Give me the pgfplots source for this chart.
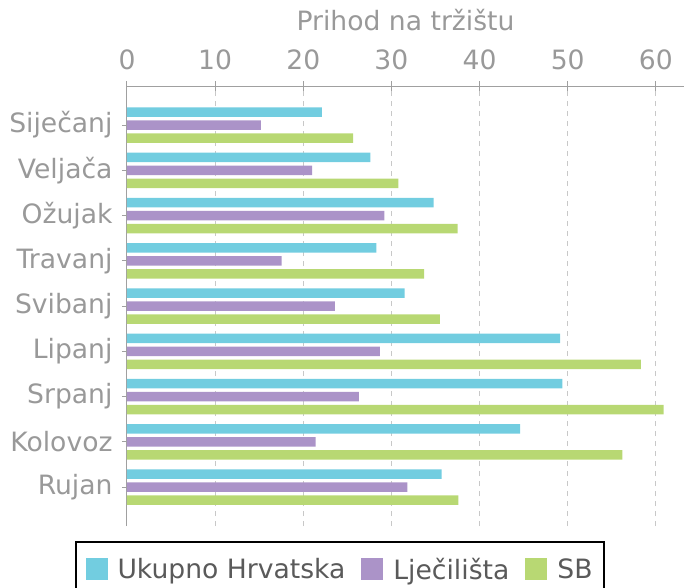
\documentclass[border=0pt]{standalone}
\usepackage{pgfplots}
\pgfplotsset{compat=1.18}
\usepackage{pgfplotstable}
\usepackage{fontspec}
\setmainfont{DejaVu Sans}
\definecolor{cUH}{HTML}{72CDE0}
\definecolor{cLJ}{HTML}{AB93C8}
\definecolor{cSB}{HTML}{B8D873}
\definecolor{tgray}{HTML}{999999}
\definecolor{lgray}{HTML}{5A5A5A}
\definecolor{agray}{HTML}{A0A0A0}
\definecolor{ggray}{HTML}{C8C8C8}
\pgfplotstableread{
y uh lj sb
8 22.1 15.2 25.65
7 27.6 21.0 30.8
6 34.8 29.2 37.5
5 28.3 17.55 33.7
4 31.5 23.6 35.5
3 49.15 28.7 58.3
2 49.4 26.3 60.9
1 44.6 21.4 56.2
0 35.7 31.8 37.6
}\datatable
\begin{document}
\begin{tikzpicture}
\begin{axis}[
  name=ax, at={(0,0)}, anchor=north west,
  width=557pt, height=440pt, scale only axis,
  xbar, bar width=9.5pt,
  xmin=0, xmax=63.2,
  ymin=-0.862, ymax=8.862,
  xtick={0,10,...,60},
  ytick={0,...,8},
  yticklabels={Rujan,Kolovoz,Srpanj,Lipanj,Svibanj,Travanj,Ožujak,Veljača,Siječanj},
  axis x line=top, axis y line=left,
  axis line style={-, draw=agray, line width=1pt},
  tick style={draw=agray, line width=1pt},
  tick align=center, major tick length=10pt,
  xmajorgrids, grid style={draw=ggray, line width=1pt, dash pattern=on 5pt off 5pt},
  /pgf/number format/assume math mode=true,
  ticklabel style={font=\fontsize{26.6}{32}\selectfont, text=tgray},
  xticklabel style={yshift=8pt},
  yticklabel style={xshift=-6pt},
  xlabel={Prihod na tržištu},
  xlabel style={font=\fontsize{26.6}{32}\selectfont, text=tgray, yshift=12pt},
  legend columns=-1,
  legend image code/.code={\fill[#1] (0pt,-11pt) rectangle (22pt,11pt); \path (30pt,0pt);},
  legend style={at={(0.3824,-0.034)}, anchor=north, draw=black, line width=2pt,
    inner xsep=9.5pt, inner ysep=14pt,
    font=\fontsize{26.6}{32}\selectfont, text=lgray,
    /tikz/every even column/.append style={column sep=14pt}},
]
\addplot[fill=cUH, draw=none, bar shift=13pt] table[x=uh, y=y] {\datatable};
\addplot[fill=cLJ, draw=none, bar shift=0pt] table[x=lj, y=y] {\datatable};
\addplot[fill=cSB, draw=none, bar shift=-13pt] table[x=sb, y=y] {\datatable};
\legend{Ukupno Hrvatska, Lječilišta, SB}
\end{axis}
\pgfresetboundingbox
\path (ax.north west) ++(-127pt,86pt) rectangle ++(684pt,-587pt);
\end{tikzpicture}
\end{document}
